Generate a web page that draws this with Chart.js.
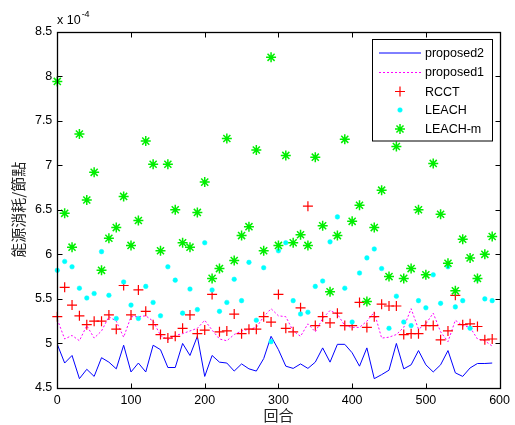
<!DOCTYPE html>
<html>
<head>
<meta charset="utf-8">
<script src="https://cdn.jsdelivr.net/npm/chart.js@4.4.0/dist/chart.umd.min.js"></script>
<style>
  html, body { margin: 0; padding: 0; background: #ffffff; }
  canvas { display: block; }
</style>
</head>
<body>
<canvas id="chart" width="515" height="425"></canvas>
<script>
// Rounds (x axis)
const rounds = [0, 10, 20, 30, 40, 50, 60, 70, 80, 90,
  100, 110, 120, 130, 140, 150, 160, 170, 180, 190,
  200, 210, 220, 230, 240, 250, 260, 270, 280, 290,
  300, 310, 320, 330, 340, 350, 360, 370, 380, 390,
  400, 410, 420, 430, 440, 450, 460, 470, 480, 490,
  500, 510, 520, 530, 540, 550, 560, 570, 580, 590];

// Energy consumption per node, in units of 1e-4
const proposed2 = [4.99, 4.78, 4.865, 4.605, 4.71, 4.63, 4.84, 4.79, 4.715, 4.98,
  4.68, 4.78, 4.68, 4.98, 4.93, 4.73, 4.73, 5.0, 4.865, 5.08,
  4.63, 4.865, 4.79, 4.78, 4.69, 4.77, 4.715, 4.69, 4.83, 5.08,
  4.93, 4.745, 4.72, 4.77, 4.72, 4.79, 4.95, 4.79, 4.99, 4.99,
  4.895, 4.745, 4.95, 4.605, 4.65, 4.70, 5.0, 4.715, 4.76, 4.92,
  4.76, 4.68, 4.76, 4.92, 4.67, 4.63, 4.725, 4.775, 4.775, 4.78];

const proposed1 = [5.27, 5.05, 5.09, 5.03, 5.2, 5.06, 5.14, 5.3, 5.25, 5.07,
  5.3, 5.3, 5.31, 5.25, 5.09, 5.04, 5.09, 5.11, 5.14, 5.17,
  5.26, 5.15, 5.05, 5.03, 5.1, 5.14, 5.16, 5.18, 5.3, 5.39,
  5.31, 5.3, 5.14, 5.08, 5.22, 5.13, 5.28, 5.37, 5.33, 5.2,
  5.18, 5.18, 5.25, 5.35, 5.06, 5.07, 5.1, 5.18, 5.39, 5.16,
  5.22, 5.34, 5.13, 5.02, 5.26, 5.2, 5.18, 5.05, 5.03, 4.97];

const rcct = [5.3, 5.63, 5.43, 5.31, 5.21, 5.25, 5.25, 5.32, 5.16, 5.65,
  5.32, 5.6, 5.36, 5.21, 5.1, 5.06, 5.08, 5.17, 5.32, 5.11,
  5.15, 5.55, 5.13, 5.14, 5.33, 5.11, 5.16, 5.16, 5.3, 5.24,
  5.55, 5.17, 5.13, 5.4, 6.54, 5.2, 5.3, 5.23, 5.34, 5.2,
  5.2, 5.46, 5.18, 5.3, 5.44, 5.42, 5.42, 5.1, 5.11, 5.11,
  5.2, 5.2, 5.04, 5.14, 5.54, 5.21, 5.22, 5.19, 5.04, 5.05];

const leach = [5.82, 5.92, 5.86, 5.62, 5.51, 5.56, 6.03, 5.54, 5.28, 5.69,
  5.43, 5.28, 5.64, 5.46, 5.31, 5.86, 5.71, 5.34, 5.61, 5.38,
  6.13, 5.6, 5.36, 5.46, 5.72, 5.48, 5.91, 5.26, 5.85, 5.02,
  6.04, 6.13, 5.48, 5.33, 5.35, 5.64, 5.7, 6.14, 6.42, 5.62,
  5.24, 5.79, 5.96, 6.06, 5.84, 5.17, 5.53, 5.24, 5.2, 5.48,
  5.4, 5.77, 5.45, 5.86, 5.41, 5.48, 5.17, 5.72, 5.5, 5.48];

const leachM = [7.94, 6.46, 6.08, 7.35, 6.61, 6.92, 5.82, 6.18, 6.3, 6.65,
  6.1, 6.38, 7.27, 7.01, 6.04, 7.01, 6.5, 6.13, 6.08, 6.47,
  6.81, 5.73, 5.84, 7.3, 5.93, 6.21, 6.31, 7.17, 6.04, 8.21,
  6.1, 7.11, 6.13, 6.22, 6.1, 7.09, 6.32, 5.58, 6.21, 7.29,
  6.37, 6.55, 5.47, 6.3, 6.72, 5.75, 7.21, 5.73, 5.84, 6.5,
  5.77, 7.02, 6.45, 5.9, 5.59, 6.17, 5.96, 5.73, 6.0, 6.2];

// Axis ticks and labels
const xTickValues = [0, 100, 200, 300, 400, 500, 600];
const yTickValues = [4.5, 5, 5.5, 6, 6.5, 7, 7.5, 8, 8.5];
const xTitle = '回合';
const yTitle = '能源消耗/節點';
const exponentBase = 'x 10';
const exponentPower = '-4';

const pairs = vals => rounds.map((r, i) => ({ x: r, y: vals[i] }));

const tickFont = { family: '"Liberation Sans", Arial, sans-serif', size: 12.5 };
const cjkFont = '"Noto Sans CJK TC", "Noto Sans CJK SC", sans-serif';

const datasets = [
  { label: 'proposed2', data: pairs(proposed2), borderColor: '#0000ff', borderWidth: 1,
    pointRadius: 0, showLine: true, order: 4, legendKind: 'line' },
  { label: 'proposed1', data: pairs(proposed1), borderColor: '#ff00ff', borderWidth: 1,
    borderDash: [2, 2], pointRadius: 0, showLine: true, order: 3, legendKind: 'line' },
  { label: 'RCCT', data: pairs(rcct), borderColor: '#ff0000', backgroundColor: '#ff0000',
    showLine: false, pointStyle: 'cross', pointRadius: 5, pointBorderWidth: 1.2, order: 2, clip: false,
    legendKind: 'point' },
  { label: 'LEACH', data: pairs(leach), borderColor: '#00ffff', backgroundColor: '#00ffff',
    showLine: false, pointStyle: 'circle', pointRadius: 2.3, pointBorderWidth: 0.5, order: 1, clip: false,
    legendKind: 'point' },
  { label: 'LEACH-m', data: pairs(leachM), borderColor: '#00ee00', backgroundColor: '#00ee00',
    showLine: false, pointStyle: 'star', pointRadius: 5, pointBorderWidth: 1.5, order: 0, clip: false,
    legendKind: 'point' }
];

// Frame, inward ticks, legend box and exponent label in the MATLAB figure style
const figureFrame = {
  id: 'figureFrame',
  afterDraw(chart) {
    const { ctx, chartArea: a, scales } = chart;
    const L = Math.round(a.left) + 0.5, R = Math.round(a.right) + 0.5;
    const T = Math.round(a.top) + 0.5, B = Math.round(a.bottom) + 0.5;
    ctx.save();
    ctx.strokeStyle = '#000';
    ctx.lineWidth = 1.3;
    ctx.strokeRect(L, T, R - L, B - T);
    ctx.lineWidth = 1;
    const tl = 5;
    xTickValues.forEach(v => {
      const px = Math.round(scales.x.getPixelForValue(v)) + 0.5;
      ctx.beginPath();
      ctx.moveTo(px, B); ctx.lineTo(px, B - tl);
      ctx.moveTo(px, T); ctx.lineTo(px, T + tl);
      ctx.stroke();
    });
    yTickValues.forEach(v => {
      const py = Math.round(scales.y.getPixelForValue(v)) + 0.5;
      ctx.beginPath();
      ctx.moveTo(L, py); ctx.lineTo(L + tl, py);
      ctx.moveTo(R, py); ctx.lineTo(R - tl, py);
      ctx.stroke();
    });

    // exponent label above the y axis
    ctx.fillStyle = '#000';
    ctx.textBaseline = 'alphabetic';
    ctx.textAlign = 'left';
    ctx.font = '12.5px "Liberation Sans", Arial, sans-serif';
    ctx.fillText(exponentBase, 57, 24);
    const w = ctx.measureText(exponentBase).width;
    ctx.font = '9px "Liberation Sans", Arial, sans-serif';
    ctx.fillText(exponentPower, 57 + w + 1, 17);

    // legend
    const bx = 372.5, by = 39.5, bw = 120, bh = 101.5;
    ctx.fillStyle = '#fff';
    ctx.fillRect(bx, by, bw, bh);
    ctx.strokeStyle = '#000';
    ctx.lineWidth = 1;
    ctx.strokeRect(bx, by, bw, bh);
    const rowY = [52.5, 72, 91.5, 110, 129];
    ctx.font = '12.5px "Liberation Sans", Arial, sans-serif';
    ctx.textBaseline = 'middle';
    chart.data.datasets.forEach((ds, i) => {
      const y = rowY[i];
      ctx.save();
      if (ds.legendKind === 'line') {
        ctx.strokeStyle = ds.borderColor;
        ctx.lineWidth = ds.borderWidth;
        ctx.setLineDash(ds.borderDash || []);
        ctx.beginPath();
        ctx.moveTo(379, y + 0.5); ctx.lineTo(421, y + 0.5);
        ctx.stroke();
      } else {
        ctx.strokeStyle = ds.borderColor;
        ctx.fillStyle = ds.backgroundColor;
        ctx.lineWidth = ds.pointBorderWidth;
        Chart.helpers.drawPoint(ctx, {
          pointStyle: ds.pointStyle, radius: ds.pointRadius, rotation: 0,
          borderWidth: ds.pointBorderWidth
        }, 400, y);
      }
      ctx.restore();
      ctx.fillStyle = '#000';
      ctx.fillText(ds.label, 425, y + 1);
    });
    ctx.restore();
  }
};

new Chart(document.getElementById('chart'), {
  type: 'line',
  data: { datasets },
  plugins: [figureFrame],
  options: {
    responsive: false,
    animation: false,
    devicePixelRatio: 1,
    layout: { padding: { left: 0, top: 31.5, right: 11.7, bottom: 0 } },
    plugins: { legend: { display: false }, tooltip: { enabled: false } },
    elements: { line: { tension: 0 } },
    scales: {
      x: {
        type: 'linear', min: 0, max: 600,
        afterBuildTicks: s => { s.ticks = xTickValues.map(v => ({ value: v })); },
        afterFit: s => { s.height = 37; },
        grid: { display: false, drawTicks: false },
        border: { display: false },
        ticks: { color: '#000', font: tickFont, padding: 5, maxRotation: 0, autoSkip: false,
          callback: v => String(v) },
        title: { display: true, text: xTitle, color: '#222',
          font: { family: cjkFont, size: 15 }, padding: { top: 0, bottom: 1 } }
      },
      y: {
        type: 'linear', min: 4.5, max: 8.5,
        afterBuildTicks: s => { s.ticks = yTickValues.map(v => ({ value: v })); },
        afterFit: s => { s.width = 57.3; },
        grid: { display: false, drawTicks: false },
        border: { display: false },
        ticks: { color: '#000', font: tickFont, padding: 5, autoSkip: false,
          callback: v => String(v) },
        title: { display: true, text: yTitle, color: '#222',
          font: { family: cjkFont, size: 15 }, padding: { top: 9, bottom: 0 } }
      }
    }
  }
});
</script>
</body>
</html>
